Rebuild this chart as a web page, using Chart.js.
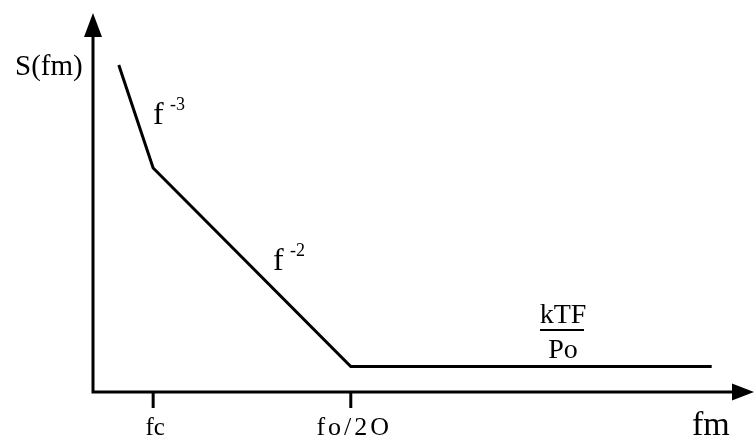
<!DOCTYPE html>
<html>
<head>
<meta charset="utf-8">
<script src="https://cdn.jsdelivr.net/npm/chart.js@4"></script>
<style>
  html, body { margin: 0; padding: 0; background: #fff; }
  #wrap { width: 754px; height: 442px; position: relative; }
</style>
</head>
<body>
<div id="wrap"><canvas id="c"></canvas></div>
<script>
// Asymptotic phase-noise spectrum S(fm): f^-3 region, f^-2 region, then a flat floor.
const freq = [3.9, 9.1, 39.0, 93.6];      // offset frequency (arbitrary linear units)
const spectrum = [86.3, 59.1, 6.7, 6.7];  // S(fm) (arbitrary linear units)
const tickValues = [9.1, 39.0];           // corner frequencies marked on the axis
const tickLabels = ['fc', 'fo/2O'];
const tickSpacing = ['0px', '3px'];

const SERIF = '"Liberation Serif", "DejaVu Serif", serif';

const axesPlugin = {
  id: 'sketchAxes',
  afterDraw(chart) {
    const ctx = chart.ctx;
    const xs = chart.scales.x, ys = chart.scales.y;
    const x0 = xs.getPixelForValue(0);
    const y0 = ys.getPixelForValue(0);
    const top = chart.chartArea.top;
    const right = chart.chartArea.right;

    ctx.save();
    ctx.strokeStyle = '#000';
    ctx.fillStyle = '#000';
    ctx.lineWidth = 3;
    ctx.lineCap = 'butt';

    // axis lines
    ctx.beginPath();
    ctx.moveTo(x0, top + 20);
    ctx.lineTo(x0, y0);
    ctx.lineTo(right - 18, y0);
    ctx.stroke();

    // arrowheads
    ctx.beginPath();
    ctx.moveTo(x0, top);
    ctx.lineTo(x0 - 9, top + 24);
    ctx.lineTo(x0 + 9, top + 24);
    ctx.closePath();
    ctx.fill();

    ctx.beginPath();
    ctx.moveTo(right, y0);
    ctx.lineTo(right - 22, y0 - 8.5);
    ctx.lineTo(right - 22, y0 + 8.5);
    ctx.closePath();
    ctx.fill();

    // ticks and labels on the frequency axis
    ctx.textAlign = 'left';
    ctx.textBaseline = 'alphabetic';
    tickValues.forEach((v, i) => {
      const px = xs.getPixelForValue(v);
      ctx.beginPath();
      ctx.moveTo(px, y0);
      ctx.lineTo(px, y0 + 16);
      ctx.stroke();
      ctx.font = (i === 0 ? '25px ' : '26px ') + SERIF;
      ctx.letterSpacing = tickSpacing[i];
      const w = ctx.measureText(tickLabels[i]).width - parseFloat(tickSpacing[i]);
      ctx.fillText(tickLabels[i], px + 2 - w / 2, y0 + 43);
    });
    ctx.letterSpacing = '0px';

    // axis titles
    ctx.font = '34px ' + SERIF;
    ctx.fillText('fm', 692, y0 + 43);
    ctx.font = '29px ' + SERIF;
    ctx.fillText('S(fm)', 15, 75);

    // slope annotations
    const slope = (x, y, sup) => {
      ctx.font = '32px ' + SERIF;
      ctx.fillText('f', x, y);
      ctx.font = '18px ' + SERIF;
      ctx.fillText(sup, x + 17, y - 14);
    };
    slope(153, 124, '-3');
    slope(273, 270, '-2');

    // noise floor kTF/Po
    ctx.font = '28px ' + SERIF;
    ctx.textAlign = 'center';
    ctx.fillText('kTF', 563, 323);
    ctx.fillText('Po', 563, 358);
    ctx.lineWidth = 2;
    ctx.beginPath();
    ctx.moveTo(540, 330);
    ctx.lineTo(584, 330);
    ctx.stroke();
    ctx.restore();
  }
};

new Chart(document.getElementById('c'), {
  type: 'line',
  data: {
    datasets: [{
      data: freq.map((f, i) => ({ x: f, y: spectrum[i] })),
      borderColor: '#000',
      borderWidth: 3,
      pointRadius: 0,
      tension: 0,
      fill: false,
      clip: false
    }]
  },
  options: {
    responsive: true,
    maintainAspectRatio: false,
    animation: false,
    layout: { padding: { left: 93, top: 13, right: 0, bottom: 50 } },
    plugins: { legend: { display: false }, tooltip: { enabled: false } },
    scales: {
      x: { type: 'linear', min: 0, max: 100, display: false },
      y: { type: 'linear', min: 0, max: 100, display: false }
    }
  },
  plugins: [axesPlugin]
});
</script>
</body>
</html>
